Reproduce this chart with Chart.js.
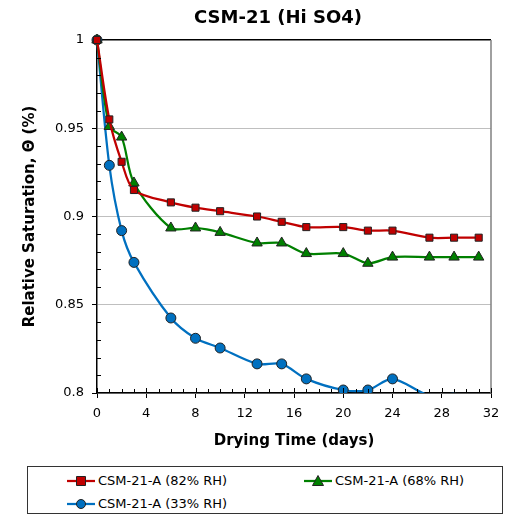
<!DOCTYPE html>
<html>
<head>
<meta charset="utf-8">
<title>CSM-21 (Hi SO4)</title>
<script src="https://cdn.jsdelivr.net/npm/chart.js@4.4.0/dist/chart.umd.min.js"></script>
<style>
    body { margin: 0; background: #fff; font-family: "DejaVu Sans", sans-serif; }
    #wrap { position: relative; width: 508px; height: 517px; }
    #chartBox { position: absolute; left: 0; top: 0; width: 508px; height: 460px; }
    #legend { position: absolute; left: 27px; top: 466px; width: 474px; height: 46px; border: 1px solid #333; }
    .legend-item { position: absolute; display: flex; align-items: center; font-size: 13px; color: #000; white-space: nowrap; }
    .legend-item canvas { margin-right: 3px; }
</style>
</head>
<body>
<div id="wrap">
    <div id="chartBox"><canvas id="satChart"></canvas></div>
    <div id="legend"></div>
</div>
<script>
// Drying data, relative saturation vs. days
const days = [0, 1, 2, 3, 6, 8, 10, 13, 15, 17, 20, 22, 24, 27, 29, 31];
const sat82 = [1, 0.955, 0.931, 0.915, 0.908, 0.905, 0.903, 0.900, 0.897, 0.894, 0.894, 0.892, 0.892, 0.888, 0.888, 0.888];
const sat68 = [1, 0.951, 0.945, 0.919, 0.8935, 0.8935, 0.891, 0.885, 0.885, 0.879, 0.879, 0.8735, 0.877, 0.877, 0.877, 0.877];
const sat33 = [1, 0.929, 0.892, 0.874, 0.8425, 0.831, 0.8255, 0.8165, 0.8165, 0.808, 0.8017, 0.8017, 0.808, 0.7985, 0.7995, 0.797];

const seriesLabels = ['CSM-21-A (82% RH)', 'CSM-21-A (68% RH)', 'CSM-21-A (33% RH)'];
const xTicks = [0, 4, 8, 12, 16, 20, 24, 28, 32];
const yTicks = [0.8, 0.85, 0.9, 0.95, 1];

const seriesStyles = [
    { color: '#C00000', point: 'rect', radius: 5 },
    { color: '#008000', point: 'triangle', radius: 6 },
    { color: '#0070C0', point: 'circle', radius: 5 }
];

function toPoints(ys) {
    return days.map((d, i) => ({ x: d, y: ys[i] }));
}

const datasets = [sat82, sat68, sat33].map((ys, i) => ({
    label: seriesLabels[i],
    data: toPoints(ys),
    borderColor: seriesStyles[i].color,
    backgroundColor: seriesStyles[i].color,
    borderWidth: 2.25,
    tension: 0.3,
    clip: { left: 10, top: 10, right: 10, bottom: 0 },
    pointStyle: seriesStyles[i].point,
    // points below the axis minimum are not marked
    pointRadius: ctx => (ctx.raw && ctx.raw.y < 0.8 ? 0 : seriesStyles[i].radius),
    pointBackgroundColor: seriesStyles[i].color,
    pointBorderColor: '#222',
    pointBorderWidth: 1
}));

// Title, right frame line and minor tick marks
const framePlugin = {
    id: 'frame',
    afterDraw(chart) {
        const { ctx, chartArea } = chart;
        const xs = chart.scales.x;
        const ys = chart.scales.y;
        ctx.save();
        ctx.strokeStyle = '#808080';
        ctx.lineWidth = 1.5;
        ctx.beginPath();
        ctx.moveTo(chartArea.right, chartArea.top);
        ctx.lineTo(chartArea.right, chartArea.bottom);
        ctx.stroke();

        ctx.strokeStyle = '#000';
        ctx.lineWidth = 1;
        ctx.beginPath();
        // x: minor ticks inside, majors cross the axis
        for (let d = xs.min; d <= xs.max; d++) {
            const px = Math.round(xs.getPixelForValue(d)) + 0.5;
            const len = xTicks.includes(d) ? 5 : 4;
            ctx.moveTo(px, chartArea.bottom);
            ctx.lineTo(px, chartArea.bottom - len);
        }
        // y: minor ticks inside
        for (let k = 80; k <= 100; k++) {
            if (k % 5 === 0) continue;
            const py = Math.round(ys.getPixelForValue(k / 100)) + 0.5;
            ctx.moveTo(chartArea.left, py);
            ctx.lineTo(chartArea.left + 4, py);
        }
        ctx.stroke();

        ctx.fillStyle = '#000';
        ctx.font = 'bold 18px "DejaVu Sans"';
        ctx.textAlign = 'center';
        ctx.textBaseline = 'middle';
        ctx.fillText('CSM-21 (Hi SO4)', 278, 18);
        ctx.restore();
    }
};

new Chart(document.getElementById('satChart'), {
    type: 'line',
    data: { datasets: datasets },
    plugins: [framePlugin],
    options: {
        responsive: true,
        maintainAspectRatio: false,
        animation: false,
        layout: { padding: { top: 40, right: 17, left: 0, bottom: 0 } },
        plugins: {
            legend: { display: false },
            tooltip: { enabled: false }
        },
        scales: {
            x: {
                type: 'linear',
                min: 0,
                max: 32,
                afterFit: scale => { scale.height = 67; },
                afterBuildTicks: scale => { scale.ticks = xTicks.map(v => ({ value: v })); },
                ticks: {
                    autoSkip: false,
                    maxRotation: 0,
                    padding: 8,
                    color: '#000',
                    font: { family: 'DejaVu Sans', size: 13 }
                },
                grid: { drawOnChartArea: false, drawTicks: true, tickLength: 5, tickColor: '#000' },
                border: { color: '#000', width: 1.5 },
                title: {
                    display: true,
                    text: 'Drying Time (days)',
                    color: '#000',
                    font: { family: 'DejaVu Sans', size: 15, weight: 'bold' },
                    padding: { top: 0, bottom: 10 }
                }
            },
            y: {
                min: 0.8,
                max: 1,
                afterFit: scale => { scale.width = 97; },
                afterBuildTicks: scale => { scale.ticks = yTicks.map(v => ({ value: v })); },
                ticks: {
                    autoSkip: false,
                    padding: 8,
                    color: '#000',
                    font: { family: 'DejaVu Sans', size: 13 },
                    callback: v => String(+v.toFixed(2))
                },
                grid: {
                    color: ctx => (ctx.tick && ctx.tick.value === 1 ? '#000' : '#bfbfbf'),
                    lineWidth: ctx => (ctx.tick && ctx.tick.value === 1 ? 1.5 : 1),
                    tickColor: '#000',
                    tickLength: 5
                },
                border: { color: '#000', width: 1.5 },
                title: {
                    display: true,
                    text: 'Relative Saturation, \u0398 (%)',
                    color: '#000',
                    font: { family: 'DejaVu Sans', size: 15, weight: 'bold' },
                    padding: { top: 21, bottom: 0 }
                }
            }
        }
    }
});

// Legend with line + marker icons
function drawIcon(style) {
    const c = document.createElement('canvas');
    c.width = 28;
    c.height = 14;
    const g = c.getContext('2d');
    g.strokeStyle = style.color;
    g.lineWidth = 2.25;
    g.beginPath();
    g.moveTo(0, 7);
    g.lineTo(28, 7);
    g.stroke();
    g.fillStyle = style.color;
    g.strokeStyle = '#222';
    g.lineWidth = 1;
    g.beginPath();
    if (style.point === 'rect') {
        g.rect(9.5, 2.5, 9, 9);
    } else if (style.point === 'triangle') {
        g.moveTo(14, 1.5);
        g.lineTo(19.5, 11.5);
        g.lineTo(8.5, 11.5);
        g.closePath();
    } else {
        g.arc(14, 7, 4.5, 0, Math.PI * 2);
    }
    g.fill();
    g.stroke();
    return c;
}

const legendPos = [[39, 6], [276, 6], [39, 29]];
const legendBox = document.getElementById('legend');
seriesLabels.forEach((label, i) => {
    const item = document.createElement('div');
    item.className = 'legend-item';
    item.style.left = legendPos[i][0] + 'px';
    item.style.top = legendPos[i][1] + 'px';
    item.appendChild(drawIcon(seriesStyles[i]));
    const span = document.createElement('span');
    span.textContent = label;
    item.appendChild(span);
    legendBox.appendChild(item);
});
</script>
</body>
</html>
